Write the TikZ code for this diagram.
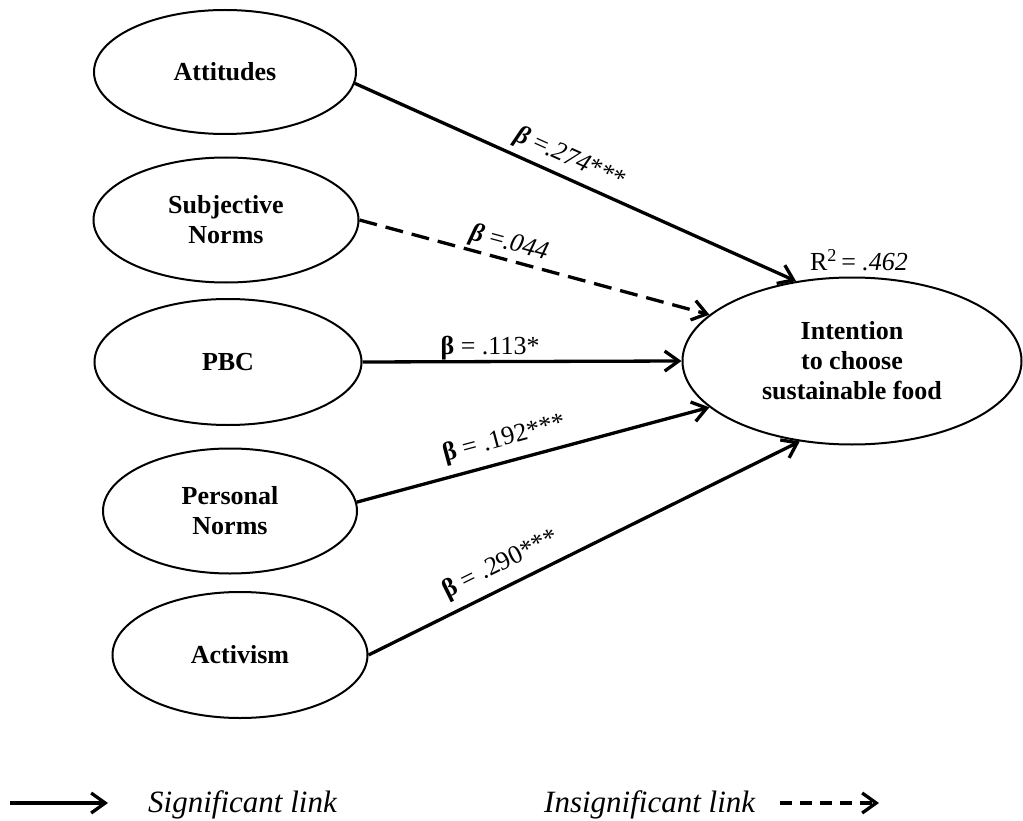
\documentclass[tikz,border=0pt]{standalone}
\usepackage{fontspec}
\setmainfont{Liberation Serif}
\usetikzlibrary{shapes.geometric,arrows.meta}
\begin{document}
\begin{tikzpicture}[x=1pt,y=-1pt,
  construct/.style={draw, ellipse, line width=2pt, inner sep=0pt, align=center,
    font=\fontsize{26}{30}\selectfont\bfseries},
  link/.style={line width=3.3pt, -{Straight Barb[length=14pt,width=20pt]}},
  weak/.style={link, dash pattern=on 18pt off 9pt},
  coef/.style={sloped, anchor=base, inner sep=0pt, font=\fontsize{26}{30}\selectfont},
  legendtext/.style={anchor=base west, inner sep=0pt, font=\fontsize{31}{35}\selectfont\itshape},
]
\useasboundingbox (0,0) rectangle (1023,821);

% predictor constructs
\node[construct, minimum width=262pt, minimum height=124pt] (att) at (225,72) {Attitudes};
\node[construct, minimum width=265pt, minimum height=125pt] (sub) at (226,220) {Subjective\\Norms};
\node[construct, minimum width=267pt, minimum height=126pt] (pbc) at (228,362) {PBC};
\node[construct, minimum width=254pt, minimum height=125pt] (pn)  at (230,511) {Personal\\Norms};
\node[construct, minimum width=255pt, minimum height=126pt] (act) at (240,655) {Activism};

% outcome construct
\node[construct, minimum width=339pt, minimum height=167pt] (int) at (852,361)
  {Intention\\to choose\\sustainable food};
\node[inner sep=0pt, font=\fontsize{26}{30}\selectfont] (r2) at (859,260)
  {R\textsuperscript{2}\,= \textit{.462}};

% structural paths
\draw[link] (att.-5) -- node[coef, pos=0.47, yshift=13pt] {\textbf{\textit{β}} =\textit{.274}***} (int.125);
\draw[weak] (sub.east) -- node[coef, pos=0.415, yshift=10pt] {\textbf{\textit{β}} =\textit{.044}} (int.162);
\draw[link] (pbc.east) -- node[coef, pos=0.4, yshift=7pt] {\textbf{β} = .113*} (int.west);
\draw[link] (pn.4) -- node[coef, pos=0.435, yshift=16pt] {\textbf{β} = .192***} (int.198);
\draw[link] (act.east) -- node[coef, pos=0.33, yshift=16pt] {\textbf{β} = .290***} (int.237);

% legend
\coordinate (sigA) at (10,803);
\coordinate (sigB) at (108,803);
\draw[link] (sigA) -- (sigB);
\node[legendtext] (sigtext) at (148,812) {Significant link};
\coordinate (insA) at (780,803);
\coordinate (insB) at (879,803);
\draw[link, dash pattern=on 12pt off 8pt] (insA) -- (insB);
\node[legendtext] (instext) at (544,812) {Insignificant link};
\end{tikzpicture}
\end{document}
